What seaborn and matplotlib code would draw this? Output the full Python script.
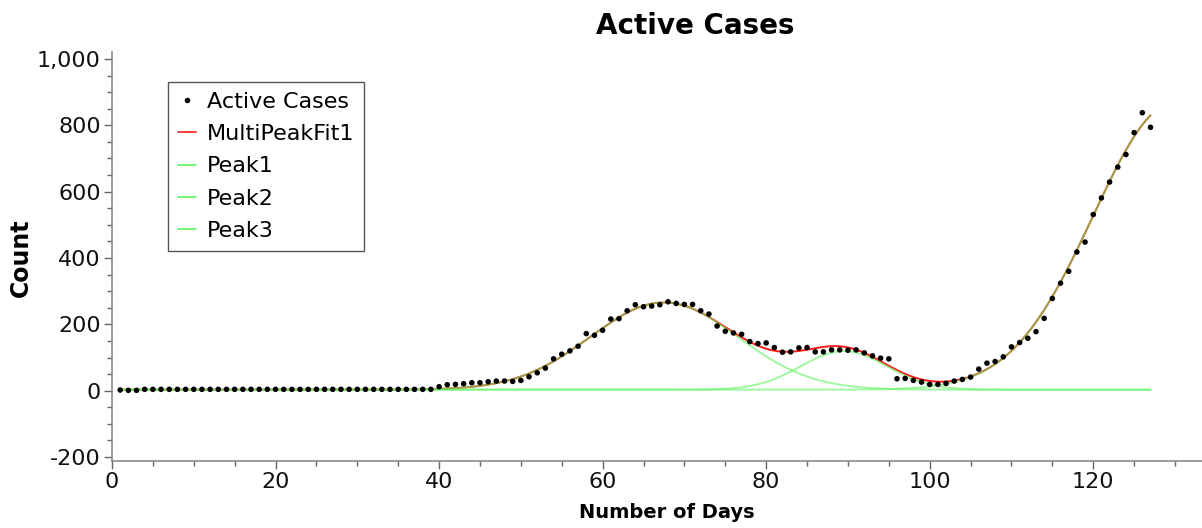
import numpy as np
import pandas as pd
import matplotlib
matplotlib.use("Agg")
import matplotlib.pyplot as plt
from matplotlib.ticker import MultipleLocator, FuncFormatter
from matplotlib.lines import Line2D
import seaborn as sns

# ---------------- data ----------------
days = list(range(1, 128))
active_cases = (
    [2, 1, 1] + [4] * 36 +
    [12, 18, 19, 21, 24, 24, 27, 29, 29, 28,          # 40-49
     31, 42, 54, 68, 96, 110, 120, 134, 172, 167,     # 50-59
     182, 216, 217, 241, 259, 253, 255, 259, 268, 263,  # 60-69
     260, 260, 241, 231, 195, 179, 174, 170, 148, 142,  # 70-79
     144, 130, 116, 117, 129, 130, 117, 117, 123, 123,  # 80-89
     122, 123, 114, 105, 98, 96, 36, 37, 31, 26,        # 90-99
     19, 19, 22, 29, 34, 41, 65, 83, 88, 102,           # 100-109
     132, 145, 158, 178, 218, 278, 324, 360, 418, 448,  # 110-119
     531, 581, 629, 674, 712, 778, 838, 794]            # 120-127
)

# multi-peak (gaussian) fit parameters
fit_baseline = 3
peak_names = ["Peak1", "Peak2", "Peak3"]
peak_centers = [67.5, 89.5, 130.0]
peak_heights = [263, 116, 865]
peak_widths = [9.0, 5.3, 10.0]

y_ticks = [-200, 0, 200, 400, 600, 800, 1000]
x_ticks = [0, 20, 40, 60, 80, 100, 120]

# ---------------- build tables ----------------
df_pts = pd.DataFrame({"day": days, "count": active_cases})
xs = np.linspace(min(days), max(days), 800)
peak_curves = {}
for name, c, h, w in zip(peak_names, peak_centers, peak_heights, peak_widths):
    peak_curves[name] = fit_baseline + h * np.exp(-(xs - c) ** 2 / (2 * w ** 2))
fit_total = fit_baseline + sum(pc - fit_baseline for pc in peak_curves.values())
df_fit = pd.DataFrame({"day": xs, "count": fit_total})

# ---------------- plotting ----------------
sns.set_theme(style="white")
plt.rcParams["font.family"] = ["DejaVu Sans"]
plt.rcParams["text.color"] = "black"
plt.rcParams["axes.labelcolor"] = "black"

fig = plt.figure(figsize=(12.02, 5.28), dpi=100)
ax = fig.add_axes([112 / 1202, 1 - 461 / 528, 1 - 112 / 1202, (461 - 52) / 528])

red = "#ff1a1a"
green = (0.38, 0.95, 0.38)

sns.lineplot(data=df_fit, x="day", y="count", ax=ax, color=red, lw=1.4,
             estimator=None, sort=False, zorder=2)
for name in peak_names:
    dfp = pd.DataFrame({"day": xs, "count": peak_curves[name]})
    sns.lineplot(data=dfp, x="day", y="count", ax=ax, color=green, lw=1.4,
                 alpha=0.6, estimator=None, sort=False, zorder=3)
sns.scatterplot(data=df_pts, x="day", y="count", ax=ax, color="black", s=16,
                edgecolor="none", zorder=4)

ax.set_xlim(0, 133.3)
ax.set_ylim(-212, 1021)
ax.set_xticks(x_ticks)
ax.set_yticks(y_ticks)
ax.xaxis.set_minor_locator(MultipleLocator(5))
ax.yaxis.set_minor_locator(MultipleLocator(50))
ax.yaxis.set_major_formatter(FuncFormatter(lambda v, p: f"{v:,.0f}"))

for s in ["top", "right"]:
    ax.spines[s].set_visible(False)
for s in ["left", "bottom"]:
    ax.spines[s].set_color("#8a8a8a")
    ax.spines[s].set_linewidth(1.2)

ax.tick_params(axis="both", which="major", direction="out", length=6,
               width=1, color="#666666", labelsize=16, pad=2, labelcolor="#111111")
ax.tick_params(axis="both", which="minor", direction="out", length=3.5,
               width=1, color="#666666")
ax.tick_params(axis="x", which="both", bottom=True)
ax.tick_params(axis="y", which="both", left=True)

ax.set_xlabel("Number of Days", fontsize=14, fontweight="bold")
ax.set_ylabel("Count", fontsize=17, fontweight="bold")
ax.xaxis.set_label_coords((667 - 112) / 1090, -(503 - 461) / 409)
ax.yaxis.set_label_coords(-(112 - 33) / 1090, (461 - 258) / 409)

fig.text(695 / 1202, 1 - 26 / 528, "Active Cases", fontsize=20,
         fontweight="bold", ha="center", va="center", color="black")

handles = [
    Line2D([], [], ls="none", marker="o", ms=3, color="black"),
    Line2D([], [], color=red, lw=1.2),
    Line2D([], [], color=green, lw=1.2),
    Line2D([], [], color=green, lw=1.2),
    Line2D([], [], color=green, lw=1.2),
]
labels = ["Active Cases", "MultiPeakFit1"] + peak_names
leg = ax.legend(handles, labels, loc="upper left",
                bbox_to_anchor=((168 - 112) / 1090, (461 - 82) / 409),
                borderaxespad=0, fontsize=16, handlelength=0.8,
                handletextpad=0.5, labelspacing=0.55, borderpad=0.45,
                fancybox=False, framealpha=1, edgecolor="#555555")
leg.get_frame().set_linewidth(1.0)
for t in leg.get_texts():
    t.set_color("black")

fig.savefig("out.png", dpi=100)
